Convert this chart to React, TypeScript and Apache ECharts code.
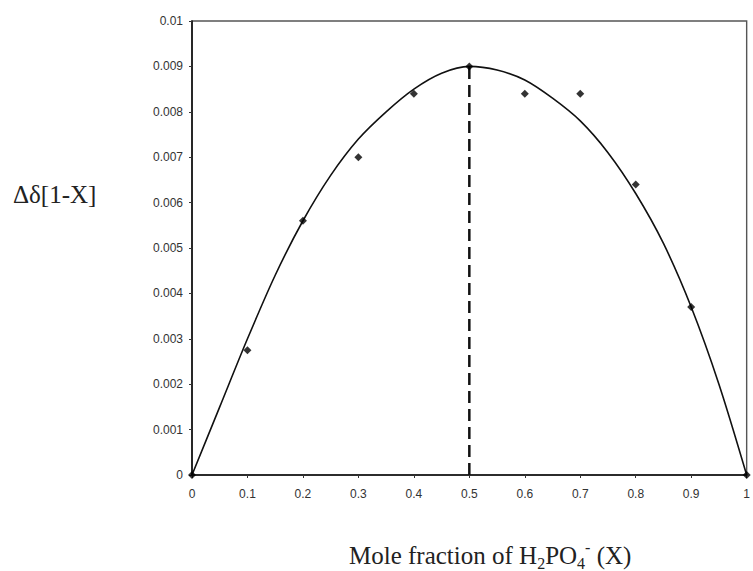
import React, { useEffect, useRef } from "react";
import * as echarts from "echarts";

const pointX = [0, 0.1, 0.2, 0.3, 0.4, 0.5, 0.6, 0.7, 0.8, 0.9, 1.0];
const pointY = [0, 0.00275, 0.0056, 0.007, 0.0084, 0.009, 0.0084, 0.0084, 0.0064, 0.0037, 0];

const curveX = [0, 0.05, 0.1, 0.15, 0.2, 0.25, 0.3, 0.35, 0.4, 0.45, 0.5, 0.55, 0.6, 0.65, 0.7, 0.75, 0.8, 0.85, 0.9, 0.95, 1.0];
const curveY = [0, 0.0015, 0.003, 0.0044, 0.0056, 0.0066, 0.0074, 0.008, 0.0085, 0.00885, 0.009, 0.00892, 0.0087, 0.0083, 0.0078, 0.0071, 0.0062, 0.0051, 0.0037, 0.002, 0];

const peakX = 0.5;
const peakY = 0.009;

const xTitleParts = { main: "Mole fraction of H", sub1: "2", mid: "PO", sub2: "4", sup: "-", tail: " (X)" };
const yTitle = "Δδ[1-X]";

export default function App() {
  const ref = useRef<HTMLDivElement>(null);
  useEffect(() => {
    if (!ref.current) return;
    const chart = echarts.init(ref.current, undefined, { renderer: "svg" });
    const tickFont = { fontFamily: "Liberation Sans, Arial, sans-serif", fontSize: 12, color: "#333" };
    const serif = "Liberation Serif, Times New Roman, serif";
    chart.setOption({
      animation: false,
      backgroundColor: "#ffffff",
      grid: {
        left: 192,
        right: 0,
        top: 21,
        bottom: 96,
        show: true,
        borderColor: "#555",
        borderWidth: 1.4,
        backgroundColor: "transparent",
      },
      xAxis: {
        type: "value",
        min: 0,
        max: 1,
        interval: 0.1,
        axisLine: { show: true, onZero: false, lineStyle: { color: "#111", width: 1.6 } },
        axisTick: { show: true, length: 3, lineStyle: { color: "#333" } },
        splitLine: { show: false },
        axisLabel: {
          ...tickFont,
          margin: 13,
          showMaxLabel: true,
          formatter: (v: number) => String(+v.toFixed(1)),
        },
      },
      yAxis: {
        type: "value",
        min: 0,
        max: 0.01,
        interval: 0.001,
        axisLine: { show: true, lineStyle: { color: "#111", width: 1.6 } },
        axisTick: { show: true, length: 3, lineStyle: { color: "#333" } },
        splitLine: { show: false },
        axisLabel: {
          ...tickFont,
          margin: 9,
          formatter: (v: number) => String(+v.toFixed(3)),
        },
      },
      series: [
        {
          type: "line",
          data: curveX.map((x, i) => [x, curveY[i]]),
          smooth: 0.3,
          showSymbol: false,
          symbol: "none",
          lineStyle: { color: "#111", width: 1.6 },
          z: 2,
        },
        {
          type: "line",
          data: [[peakX, 0], [peakX, peakY]],
          showSymbol: false,
          symbol: "none",
          lineStyle: { color: "#111", width: 2.5, type: [12, 6] },
          z: 3,
        },
        {
          type: "scatter",
          data: pointX.map((x, i) => [x, pointY[i]]),
          symbol: "diamond",
          symbolSize: 8,
          itemStyle: { color: "#000" },
          z: 4,
        },
      ],
      graphic: [
        {
          type: "text",
          left: 13,
          top: 182,
          style: {
            text: yTitle,
            font: '25px "Liberation Serif", "Times New Roman", serif',
            fill: "#222",
          },
        },
        {
          type: "text",
          left: 349,
          top: 539,
          style: {
            text:
              "{a|" + xTitleParts.main + "}{sub|" + xTitleParts.sub1 + "}{a|" + xTitleParts.mid + "}{sub|" +
              xTitleParts.sub2 + "}{sup|" + xTitleParts.sup + "}{a|" + xTitleParts.tail + "}",
            rich: {
              a: { fontFamily: serif, fontSize: 25, lineHeight: 32, verticalAlign: "middle", fill: "#222" },
              sub: { fontFamily: serif, fontSize: 16, lineHeight: 16, verticalAlign: "bottom", fill: "#222" },
              sup: { fontFamily: serif, fontSize: 16, lineHeight: 16, verticalAlign: "top", fill: "#222" },
            },
          },
        },
      ],
    });
    return () => chart.dispose();
  }, []);
  return (
    <div
      ref={ref}
      style={{ position: "absolute", left: 0, top: 0, width: 753, height: 571, background: "#fff" }}
    />
  );
}
